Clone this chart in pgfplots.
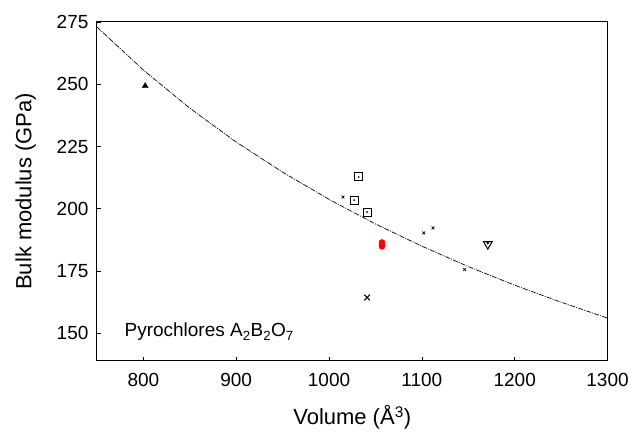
\documentclass[border=0pt]{standalone}
\usepackage{pgfplots}
\pgfplotsset{compat=1.18}
\usepackage{fontspec}
\setmainfont{Liberation Sans}
\begin{document}
\begin{tikzpicture}
  \begin{axis}[
    scale only axis,
    width=511pt, height=339pt,
    xmin=750, xmax=1300,
    ymin=139, ymax=275,
    xtick={800,900,1000,1100,1200,1300},
    ytick={150,175,200,225,250,275},
    tick pos=left,
    tick align=inside,
    major tick length=4pt,
    axis line style={line width=1pt},
    tick style={line width=0.6pt, black},
    xticklabel style={font=\fontsize{19}{19}\selectfont, yshift=-9pt},
    yticklabel style={font=\fontsize{19}{19}\selectfont, xshift=-5pt},
    /pgf/number format/assume math mode=true,
    /pgf/number format/set thousands separator={},
    xlabel={Volume (Å\textsuperscript{3})},
    ylabel={Bulk modulus (GPa)},
    label style={font=\fontsize{22}{22}\selectfont},
    xlabel style={yshift=-12pt},
    ylabel style={yshift=14pt},
    clip=true,
    ]
    % fit curve
    \addplot[black, line width=0.7pt, dash pattern=on 5pt off 1.2pt on 1pt off 1.2pt] coordinates {
      (750,273.0) (800,255.7) (850,240.4) (900,226.8) (950,214.7)
      (1000,203.8) (1050,193.9) (1100,185.0) (1150,176.8)
      (1200,169.3) (1250,162.5) (1300,156.1)
    };
    % filled triangle
    \addplot[only marks, mark=triangle*, mark size=3.5pt, black] coordinates {(802,249.3)};
    % open squares with dot
    \addplot[only marks, mark=square, mark size=4pt, line width=1pt, black] coordinates {
      (1032,212.8) (1027,203.5) (1041,198.7)
    };
    \addplot[only marks, mark=*, mark size=0.6pt, black] coordinates {
      (1032,212.8) (1027,203.5) (1041,198.7)
    };
    % small crosses
    \addplot[only marks, mark=x, mark size=2pt, line width=0.7pt, black] coordinates {
      (1015,204.7) (1102,190.3) (1112,192.3) (1146,175.6)
    };
    % large cross
    \addplot[only marks, mark=x, mark size=4pt, line width=1pt, black] coordinates {(1041,164.4)};
    % open down triangle
    \addplot[only marks, mark=triangle, mark options={rotate=180}, mark size=5pt, line width=1pt, black] coordinates {(1171,185.8)};
    \addplot[only marks, mark=triangle*, mark options={rotate=180}, mark size=1.4pt, black] coordinates {(1171,186.3)};
    % red points
    \addplot[only marks, mark=*, mark size=3pt, red, mark options={fill=red, draw=red}] coordinates {
      (1057,186.5) (1057,185.6) (1057,184.9)
    };
    \node[anchor=west, font=\fontsize{19}{19}\selectfont] at (axis cs:776,150.5)
      {Pyrochlores A\textsubscript{2}B\textsubscript{2}O\textsubscript{7}};
  \end{axis}
  \path (current axis.south west) ++(-97pt,-72pt) coordinate (bl);
  \path (current axis.north east) ++(24pt,22pt) coordinate (tr);
  \path (bl) rectangle (tr);
\end{tikzpicture}
\end{document}
